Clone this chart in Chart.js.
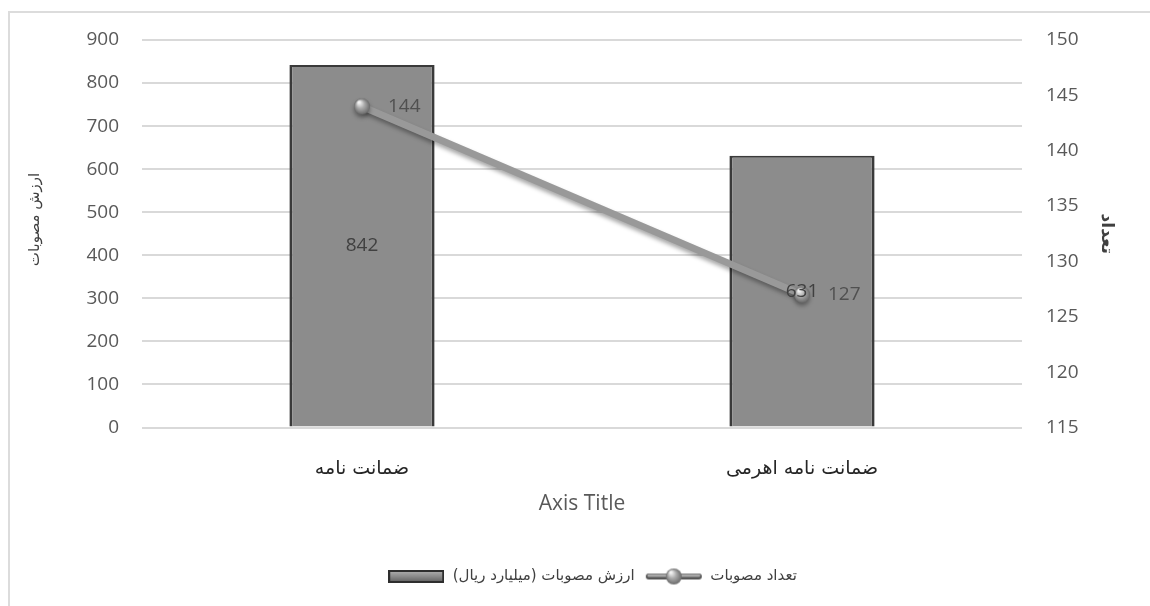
<!DOCTYPE html>
<html>
<head>
<meta charset="utf-8">
<script src="https://cdn.jsdelivr.net/npm/chart.js@4.4.1/dist/chart.umd.min.js"></script>
<style>
  html, body { margin:0; padding:0; background:#fff; }
  #wrap { position:relative; width:1150px; height:606px; overflow:hidden; }
  #frame { position:absolute; left:8px; top:11px; width:1200px; height:700px; border:2px solid #dcdcdc; }
  #wrap canvas { position:absolute; left:0; top:0; }
</style>
</head>
<body>
<div id="wrap">
  <div id="frame"></div>
  <canvas id="chart" width="1150" height="606"></canvas>
</div>
<script>
// categories and values
const categories = ['ضمانت نامه', 'ضمانت نامه اهرمی'];
const approvedValue = [842, 631];   // ارزش مصوبات (میلیارد ریال)
const approvedCount = [144, 127];   // تعداد مصوبات
const leftTicks = [0, 900, 100];    // min, max, step
const rightTicks = [115, 150, 5];

const arFont = "'DejaVu Sans', sans-serif";
const numFont = "'Open Sans', sans-serif";

// small grey sphere used for the line markers
function sphere(r){
  const c = document.createElement('canvas');
  c.width = c.height = 2*r + 2;
  const g = c.getContext('2d');
  const grad = g.createRadialGradient(r*0.75, r*0.6, 1, r+1, r+1, r);
  grad.addColorStop(0, '#f2f2f2');
  grad.addColorStop(0.45, '#ababab');
  grad.addColorStop(1, '#6a6a6a');
  g.fillStyle = grad;
  g.beginPath(); g.arc(r+1, r+1, r, 0, Math.PI*2); g.fill();
  return c;
}
const marker = sphere(8);

// legend icons
function barIcon(){
  const c = document.createElement('canvas');
  c.width = 56; c.height = 13;
  const g = c.getContext('2d');
  const grad = g.createLinearGradient(0, 0, 0, 13);
  grad.addColorStop(0, '#b5b5b5'); grad.addColorStop(0.5, '#8a8a8a'); grad.addColorStop(1, '#5a5a5a');
  g.fillStyle = '#2e2e2e'; g.fillRect(0, 0, 56, 13);
  g.fillStyle = grad; g.fillRect(2, 2, 52, 9);
  return c;
}
function lineIcon(){
  const c = document.createElement('canvas');
  c.width = 58; c.height = 18;
  const g = c.getContext('2d');
  g.strokeStyle = '#555'; g.lineWidth = 6; g.lineCap = 'round';
  g.beginPath(); g.moveTo(4, 9); g.lineTo(54, 9); g.stroke();
  g.strokeStyle = '#a8a8a8'; g.lineWidth = 3;
  g.beginPath(); g.moveTo(4, 8); g.lineTo(54, 8); g.stroke();
  g.drawImage(marker, 29 - 9, 0);
  return c;
}

const labelPlugin = {
  id: 'valueLabels',
  beforeDatasetDraw(chart, args){
    if (args.meta.type === 'line'){
      const ctx = chart.ctx;
      ctx.save();
      ctx.shadowColor = 'rgba(0,0,0,0.35)';
      ctx.shadowBlur = 4;
      ctx.shadowOffsetY = 3;
    }
  },
  afterDatasetDraw(chart, args){
    if (args.meta.type === 'line') chart.ctx.restore();
  },
  afterDatasetsDraw(chart){
    const ctx = chart.ctx;
    ctx.save();
    ctx.font = '19px ' + numFont;
    ctx.textBaseline = 'middle';
    chart.data.datasets.forEach((ds, i) => {
      const meta = chart.getDatasetMeta(i);
      meta.data.forEach((el, j) => {
        if (meta.type === 'bar'){
          ctx.fillStyle = '#404040';
          ctx.textAlign = 'center';
          ctx.fillText(ds.data[j], el.x, (el.y + el.base) / 2);
        } else {
          ctx.fillStyle = '#505050';
          ctx.textAlign = 'left';
          ctx.fillText(ds.data[j], el.x + 26, el.y);
        }
      });
    });
    ctx.restore();
  },
  afterLayout(chart){
    // legend sits a little right of the canvas centre
    chart.legend.left += 22;
    chart.legend.right += 22;
  }
};

new Chart(document.getElementById('chart'), {
  data: {
    labels: categories,
    datasets: [
      {
        type: 'line', label: 'تعداد مصوبات', data: approvedCount, yAxisID: 'yR',
        borderColor: '#999999', borderWidth: 7, pointStyle: marker, pointRadius: 9,
        pointHoverRadius: 9, tension: 0
      },
      {
        type: 'bar', label: 'ارزش مصوبات (میلیارد ریال)', data: approvedValue, yAxisID: 'yL',
        backgroundColor: '#8c8c8c', borderColor: '#3a3a3a',
        borderWidth: {left: 3, right: 3, top: 2, bottom: 0}, borderSkipped: false,
        barPercentage: 0.33, categoryPercentage: 1
      }
    ]
  },
  options: {
    responsive: false, animation: false,
    layout: { padding: { left: 20, right: 30, top: 40, bottom: 12 } },
    plugins: {
      tooltip: { enabled: false },
      legend: {
        position: 'bottom', reverse: true, textDirection: 'rtl',
        labels: {
          usePointStyle: true, pointStyleWidth: 58, padding: 10, color: '#404040',
          font: { family: arFont, size: 15 },
          generateLabels(chart){
            return chart.data.datasets.map((ds, i) => ({
              text: ds.label, datasetIndex: i, hidden: false, lineWidth: 0,
              pointStyle: ds.type === 'bar' ? barIcon() : lineIcon(),
              fillStyle: '#888', strokeStyle: '#888', fontColor: '#404040'
            }));
          }
        }
      }
    },
    scales: {
      x: {
        grid: { display: false }, border: { display: false },
        ticks: { color: '#262626', padding: 22, font: { family: arFont, size: 19 } },
        title: { display: true, text: 'Axis Title', color: '#595959', padding: { top: 0, bottom: 42 },
                 font: { family: numFont, size: 21 } },
        afterFit(s){ s.height = 131.5; }
      },
      yL: {
        position: 'left', min: leftTicks[0], max: leftTicks[1],
        ticks: { stepSize: leftTicks[2], color: '#595959', padding: 23, font: { family: numFont, size: 19 } },
        grid: { color: '#d9d9d9', lineWidth: 2, drawTicks: false }, border: { display: false },
        title: { display: true, text: '\u00A0\u00A0\u00A0\u00A0\u00A0\u00A0ارزش مصوبات', color: '#404040',
                 padding: { top: 6, bottom: 0 }, font: { family: arFont, size: 15 } },
        afterFit(s){ s.width = 122; }
      },
      yR: {
        position: 'right', min: rightTicks[0], max: rightTicks[1],
        ticks: { stepSize: rightTicks[2], color: '#595959', padding: 24, font: { family: numFont, size: 19 } },
        grid: { display: false, drawTicks: false }, border: { display: false },
        title: { display: true, text: 'تعداد', color: '#404040', padding: { top: 3, bottom: 0 },
                 font: { family: arFont, size: 17, weight: 'bold' } },
        afterFit(s){ s.width = 98; }
      }
    }
  },
  plugins: [labelPlugin]
});
</script>
</body>
</html>
